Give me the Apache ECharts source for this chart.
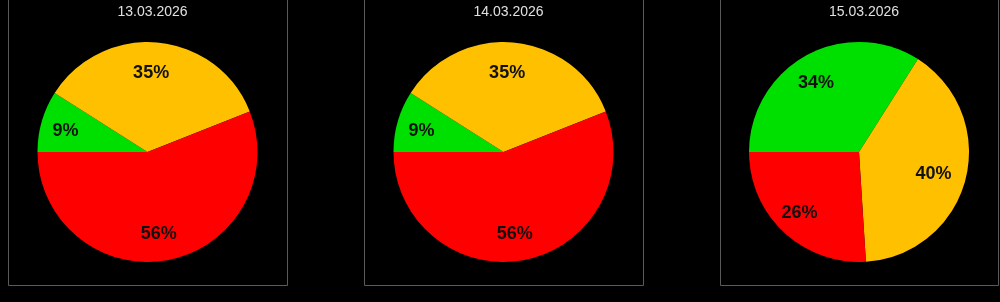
<!DOCTYPE html>
<html>
<head>
<meta charset="utf-8">
<style>
  html, body { margin: 0; padding: 0; background: #000; }
  #chart { width: 1000px; height: 302px; }
</style>
<script src="https://cdn.jsdelivr.net/npm/echarts@6/dist/echarts.min.js"></script>
</head>
<body>
<div id="chart"></div>
<script>
// Daily share per status, one pie per day
const dates = ['13.03.2026', '14.03.2026', '15.03.2026'];
const statusNames = ['Grün', 'Gelb', 'Rot'];
const statusColors = ['#00E000', '#FFC000', '#FF0000'];
const greenShare = [9, 9, 34];
const yellowShare = [35, 35, 40];
const redShare = [56, 56, 26];

// Panel frames (left, right) and shared vertical extent
const panelLeft = [8, 364, 720];
const panelRight = [287, 643, 998];
const panelTop = -6;
const panelBottom = 285;
const pieRadius = 110;
const pieCenterY = 152;

const chart = echarts.init(document.getElementById('chart'), null, { renderer: 'canvas' });

function dayData(i) {
  const vals = [greenShare[i], yellowShare[i], redShare[i]];
  return vals.map((v, k) => ({ name: statusNames[k], value: v, itemStyle: { color: statusColors[k] } }));
}

const series = [];
const titles = [];
const graphics = [];

dates.forEach((d, i) => {
  const cx = (panelLeft[i] + panelRight[i]) / 2;
  graphics.push({
    type: 'rect',
    shape: { x: panelLeft[i] + 0.5, y: panelTop, width: panelRight[i] - panelLeft[i], height: panelBottom - panelTop + 0.5 },
    style: { fill: 'none', stroke: '#5a5a5a', lineWidth: 1 },
    silent: true
  });
  titles.push({
    text: d,
    left: cx,
    top: 0,
    textAlign: 'center',
    textStyle: { color: '#e0e0e0', fontSize: 14, fontWeight: 'normal', fontFamily: 'Liberation Sans, Arial, sans-serif' }
  });
  // filled pie
  series.push({
    type: 'pie',
    center: [cx, pieCenterY],
    radius: [0, pieRadius],
    startAngle: 180,
    clockwise: true,
    silent: true,
    animation: false,
    label: { show: false },
    labelLine: { show: false },
    data: dayData(i)
  });
  // label ring: places percentage text at about 0.7 of the radius
  series.push({
    type: 'pie',
    center: [cx, pieCenterY],
    radius: [pieRadius * 0.42, pieRadius],
    startAngle: 180,
    clockwise: true,
    silent: true,
    animation: false,
    itemStyle: { color: 'rgba(0,0,0,0)' },
    label: {
      show: true,
      position: 'inside',
      formatter: '{c}%',
      offset: [-4, 2],
      color: '#111',
      fontSize: 18,
      fontWeight: 'bold',
      fontFamily: 'Liberation Sans, Arial, sans-serif'
    },
    labelLine: { show: false },
    data: dayData(i).map(o => ({ name: o.name, value: o.value, itemStyle: { color: 'rgba(0,0,0,0)' } }))
  });
});

chart.setOption({
  backgroundColor: '#000',
  animation: false,
  title: titles,
  graphic: graphics,
  series: series
});
</script>
</body>
</html>
